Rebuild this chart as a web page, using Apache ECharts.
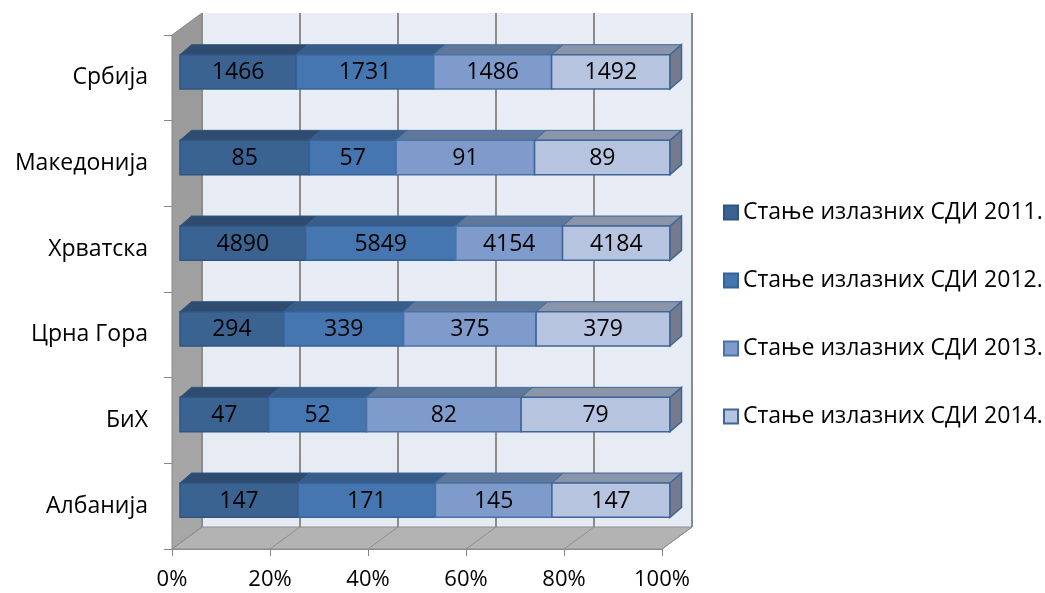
<!DOCTYPE html>
<html>
<head>
<meta charset="utf-8">
<script src="https://cdn.jsdelivr.net/npm/echarts@6/dist/echarts.min.js"></script>
<style>
  html, body { margin: 0; padding: 0; background: #ffffff; }
  #chart { width: 1045px; height: 593px; }
</style>
</head>
<body>
<div id="chart"></div>
<script>
// Countries, top to bottom
const countries = ['Србија', 'Македонија', 'Хрватска', 'Црна Гора', 'БиХ', 'Албанија'];
// Series names
const years = [
  'Стање излазних СДИ 2011.',
  'Стање излазних СДИ 2012.',
  'Стање излазних СДИ 2013.',
  'Стање излазних СДИ 2014.'
];
// Outgoing SDI counts per country
const sdi2011 = [1466, 85, 4890, 294, 47, 147];
const sdi2012 = [1731, 57, 5849, 339, 52, 171];
const sdi2013 = [1486, 91, 4154, 375, 82, 145];
const sdi2014 = [1492, 89, 4184, 379, 79, 147];
// Percentage axis ticks
const percentTicks = [0, 20, 40, 60, 80, 100];

const seriesValues = [sdi2011, sdi2012, sdi2013, sdi2014];

const FONT = '"Open Sans", "Noto Sans", sans-serif';
// 3D box: offset of the back wall from the front plane
const DX = 30, DY = -22;
// bar slab: front and back offsets inside the box
const BAR_FRONT = [8, -6];
const BAR_BACK = [19.5, -16];
const BAR_RATIO = 0.4;

const faces = [
  { front: '#3B6392', top: '#2F4C70', side: '#2C4A6E', border: '#2E5580' },
  { front: '#4676B0', top: '#395D89', side: '#34557E', border: '#35629A' },
  { front: '#7E9BCB', top: '#5F7899', side: '#5A7191', border: '#4A72A8' },
  { front: '#B7C4DF', top: '#8B95AA', side: '#747B8E', border: '#3F6597' }
];

// 100% stacked extents: [start %, end %, category index, raw value]
const totals = countries.map((c, ci) => seriesValues.reduce((s, arr) => s + arr[ci], 0));
function stackedData(si) {
  return countries.map((c, ci) => {
    let before = 0;
    for (let k = 0; k < si; k++) before += seriesValues[k][ci];
    const start = before / totals[ci] * 100;
    const end = (before + seriesValues[si][ci]) / totals[ci] * 100;
    return [start, end, ci, seriesValues[si][ci]];
  });
}

function renderBox(params, api) {
  const cs = params.coordSys;
  const L = cs.x, R = cs.x + cs.width, T = cs.y, B = cs.y + cs.height;
  const children = [];
  // back wall
  children.push({
    type: 'rect',
    shape: { x: L + DX, y: T + DY, width: R - L, height: B - T },
    style: {
      fill: new echarts.graphic.LinearGradient(0, 0, 0, 1, [
        { offset: 0, color: '#E9EDF5' },
        { offset: 1, color: '#E6EAF3' }
      ])
    }
  });
  // left wall
  children.push({
    type: 'polygon',
    shape: { points: [[L, T], [L + DX, T + DY], [L + DX, B + DY], [L, B]] },
    style: {
      fill: new echarts.graphic.LinearGradient(0, 0, 0, 1, [
        { offset: 0, color: '#989898' },
        { offset: 1, color: '#A8A8A8' }
      ]),
      stroke: '#8A8A8A', lineWidth: 1
    }
  });
  // floor
  children.push({
    type: 'polygon',
    shape: { points: [[L, B], [L + DX, B + DY], [R + DX, B + DY], [R, B]] },
    style: { fill: '#B3B3B3', stroke: '#8E8E8E', lineWidth: 1 }
  });
  // gridlines on the back wall and floor
  percentTicks.forEach(v => {
    const x = api.coord([v, 0])[0];
    children.push({
      type: 'line',
      shape: { x1: x + DX, y1: T + DY, x2: x + DX, y2: B + DY },
      style: { stroke: '#8C8C8C', lineWidth: 2 }
    });
    children.push({
      type: 'line',
      shape: { x1: x, y1: B, x2: x + DX, y2: B + DY },
      style: { stroke: '#8E8E8E', lineWidth: 1 }
    });
  });
  return { type: 'group', children: children };
}

function makeBarRenderer(si) {
  return function (params, api) {
    const ci = api.value(2);
    const p0 = api.coord([api.value(0), ci]);
    const p1 = api.coord([api.value(1), ci]);
    const band = api.size([0, 1])[1];
    const h = band * BAR_RATIO;
    const xl = p0[0] + BAR_FRONT[0];
    const xr = p1[0] + BAR_FRONT[0];
    const yt = p0[1] + BAR_FRONT[1] - h / 2;
    const yb = yt + h;
    const ddx = BAR_BACK[0] - BAR_FRONT[0];
    const ddy = BAR_BACK[1] - BAR_FRONT[1];
    const f = faces[si];
    const children = [
      {
        type: 'polygon',
        shape: { points: [[xl, yt], [xr, yt], [xr + ddx, yt + ddy], [xl + ddx, yt + ddy]] },
        style: { fill: f.top, stroke: f.border, lineWidth: 1 }
      },
      {
        type: 'rect',
        shape: { x: xl, y: yt, width: xr - xl, height: h },
        style: { fill: f.front, stroke: f.border, lineWidth: 1.5 }
      }
    ];
    if (si === seriesValues.length - 1) {
      children.push({
        type: 'polygon',
        shape: { points: [[xr, yt], [xr + ddx, yt + ddy], [xr + ddx, yb + ddy], [xr, yb]] },
        style: { fill: f.side, stroke: f.border, lineWidth: 1.5 }
      });
    }
    children.push({
      type: 'text',
      style: {
        text: String(api.value(3)),
        x: (xl + xr) / 2,
        y: yt + h / 2 + 1,
        align: 'center',
        verticalAlign: 'middle',
        fill: '#000000',
        font: '23px ' + FONT
      }
    });
    return { type: 'group', children: children };
  };
}

const chart = echarts.init(document.getElementById('chart'), null, { renderer: 'canvas' });

const series = [{
  type: 'custom',
  name: 'box',
  silent: true,
  z: 1,
  renderItem: renderBox,
  data: [[0, 0]],
  encode: { x: 0, y: 1 }
}];
years.forEach((name, si) => {
  series.push({
    type: 'custom',
    name: name,
    z: 5 + si,
    itemStyle: { color: faces[si].front, borderColor: faces[si].border, borderWidth: 1 },
    renderItem: makeBarRenderer(si),
    encode: { x: [0, 1], y: 2 },
    data: stackedData(si)
  });
});

chart.setOption({
  animation: false,
  backgroundColor: '#ffffff',
  grid: { left: 172, right: 383, top: 35, bottom: 44, containLabel: false },
  xAxis: {
    type: 'value',
    min: 0,
    max: 100,
    interval: 20,
    axisLine: { show: true, lineStyle: { color: '#868686', width: 1 } },
    axisTick: { show: true, length: 7, lineStyle: { color: '#868686' } },
    splitLine: { show: false },
    axisLabel: {
      formatter: '{value}%',
      color: '#000000',
      fontSize: 22,
      fontFamily: FONT,
      margin: 20
    }
  },
  yAxis: {
    type: 'category',
    inverse: true,
    data: countries,
    axisLine: { show: true, lineStyle: { color: '#868686', width: 1 } },
    axisTick: { show: true, length: 8, lineStyle: { color: '#868686' } },
    splitLine: { show: false },
    axisLabel: {
      color: '#000000',
      fontSize: 23,
      fontFamily: FONT,
      margin: 24
    }
  },
  legend: {
    data: years,
    orient: 'vertical',
    left: 718,
    top: 196,
    icon: 'rect',
    itemWidth: 14,
    itemHeight: 14,
    itemGap: 45,
    textStyle: { color: '#000000', fontSize: 23, fontFamily: FONT, lineHeight: 20 },
    selectedMode: false
  },
  series: series
});
</script>
</body>
</html>
